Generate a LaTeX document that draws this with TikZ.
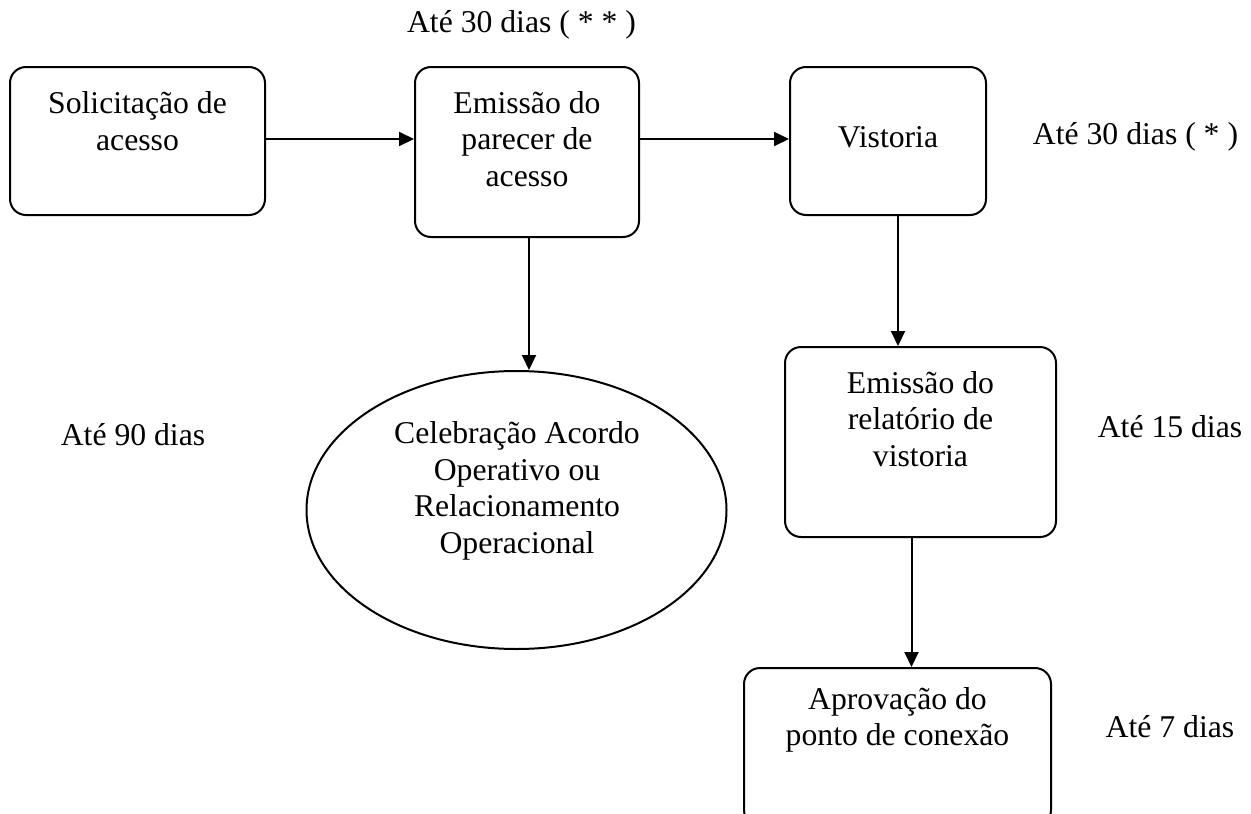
\documentclass[tikz,border=0pt]{standalone}
\usepackage{fontspec}
\setmainfont{Liberation Serif}
\usetikzlibrary{arrows.meta,shapes.geometric}
\begin{document}
\begin{tikzpicture}[x=1pt,y=-1pt,
  boxstyle/.style={draw,line width=2pt,rounded corners=16pt,inner sep=0pt},
  ovalstyle/.style={draw,line width=2pt,ellipse,inner sep=0pt},
  txt/.style={align=center,inner sep=0pt,font=\fontsize{31.7}{36.5}\selectfont},
  arr/.style={line width=2pt,-{Triangle[length=15pt,width=14pt]}}]
\useasboundingbox (0,0) rectangle (1251,814);
% boxes
\node[boxstyle,minimum width=255pt,minimum height=148pt] (b1) at (137.5,141) {};
\node[boxstyle,minimum width=224pt,minimum height=170pt] (b2) at (527,152) {};
\node[boxstyle,minimum width=196pt,minimum height=148pt] (b3) at (888,141) {};
\node[boxstyle,minimum width=271pt,minimum height=190pt] (b4) at (920.5,442) {};
\node[boxstyle,minimum width=307pt,minimum height=158pt] (b5) at (897.5,747) {};
\node[ovalstyle,minimum width=420pt,minimum height=278pt] (el) at (516.5,510) {};
% texts
\node[txt] (t1) at (137.5,121) {Solicitação de\\acesso};
\node[txt] (t2) at (527,139) {Emissão do\\parecer de\\acesso};
\node[txt] (t3) at (888,137) {Vistoria};
\node[txt] (t4) at (920.5,419) {Emissão do\\relatório de\\vistoria};
\node[txt] (t5) at (897.5,720) {Aprovação do\\ponto de conexão};
\node[txt] (te) at (517,491) {Celebração Acordo\\Operativo ou\\Relacionamento\\Operacional};
\node[txt] (l1) at (521.5,25) {Até 30 dias ( * * )};
\node[txt] (l2) at (1135.5,137) {Até 30 dias ( * )};
\node[txt] (l3) at (1170,427) {Até 15 dias};
\node[txt] (l4) at (1170,727) {Até 7 dias};
\node[txt] (l5) at (133,435) {Até 90 dias};
% connectors
\draw[arr] ([yshift=2pt]b1.east) -- ([yshift=2pt]b2.west |- b1.east);
\draw[arr] ([yshift=2pt]b2.east |- b1.east) -- ([yshift=2pt]b3.west);
\draw[arr] ([xshift=2pt]b2.south) -- ([xshift=2pt]b2.south |- el.north);
\draw[arr] ([xshift=10pt]b3.south) -- ([xshift=10pt]b3.south |- b4.north);
\draw[arr] ([xshift=-9pt]b4.south) -- ([xshift=-9pt]b4.south |- b5.north);
\end{tikzpicture}
\end{document}
